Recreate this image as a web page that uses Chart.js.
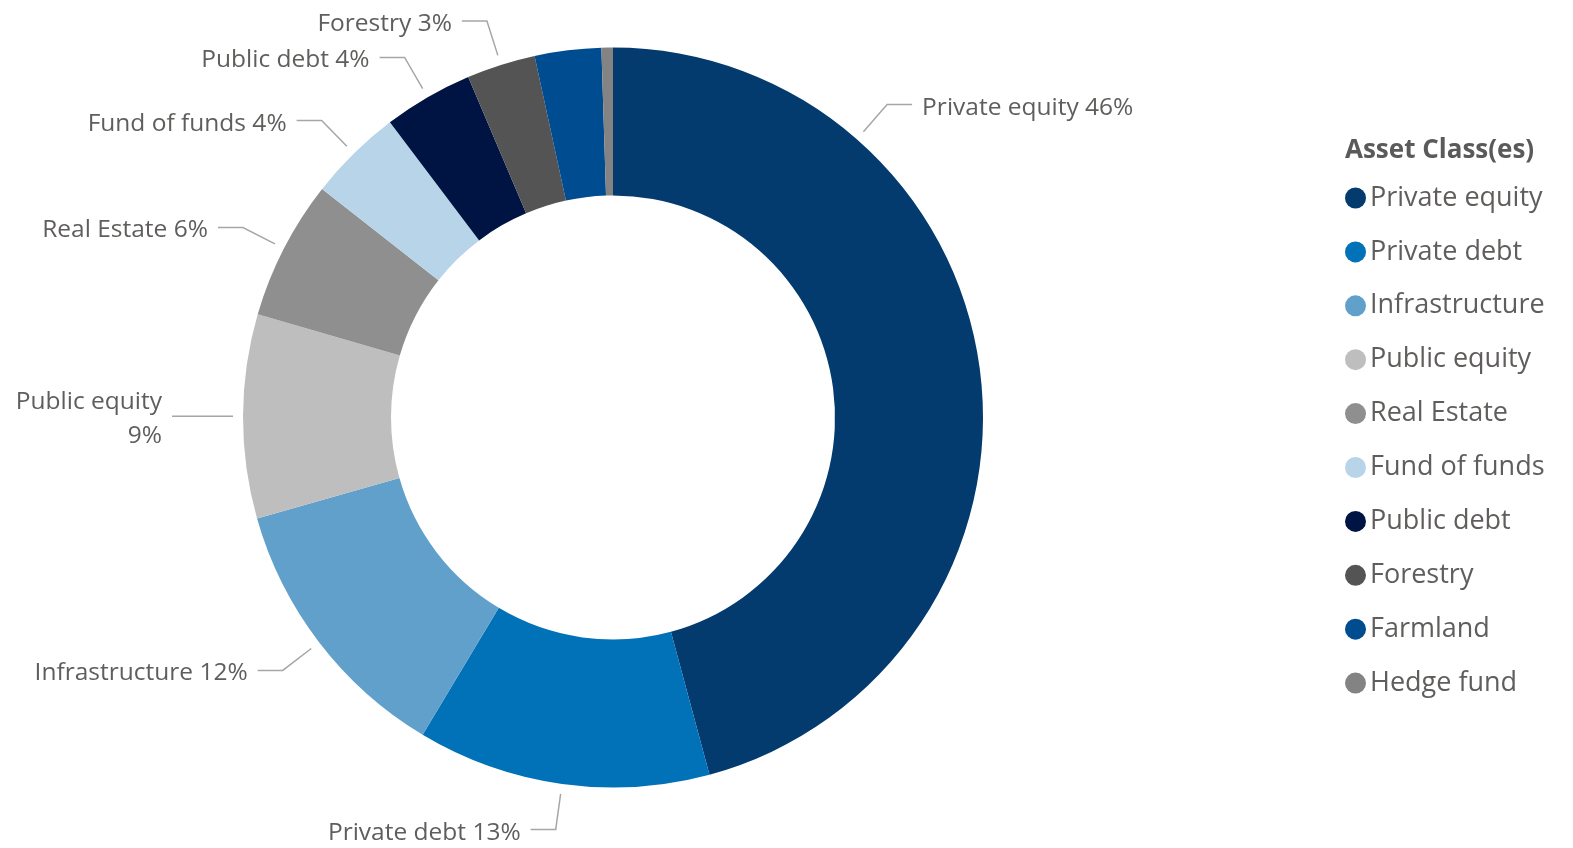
<!DOCTYPE html>
<html>
<head>
<meta charset="utf-8">
<script src="https://cdn.jsdelivr.net/npm/chart.js@4.4.1/dist/chart.umd.min.js"></script>
<style>
  html, body { margin: 0; padding: 0; background: #ffffff; overflow: hidden; }
  #wrap { position: relative; width: 1573px; height: 848px; }
</style>
</head>
<body>
<div id="wrap"><canvas id="c" width="1573" height="848"></canvas></div>
<script>
// Asset classes and their share of the portfolio (%)
const categories = ['Private equity', 'Private debt', 'Infrastructure', 'Public equity', 'Real Estate',
                    'Fund of funds', 'Public debt', 'Forestry', 'Farmland', 'Hedge fund'];
const shares = [45.8, 12.8, 12.0, 8.9, 6.1, 4.1, 3.9, 3.0, 2.9, 0.5];
const colours = ['#033b6f', '#0171b8', '#62a0cc', '#bebebe', '#8f8f8f',
                 '#b8d4e9', '#001443', '#545454', '#004c91', '#838383'];
const legendTitle = 'Asset Class(es)';

const FONT = '"Open Sans", "Noto Sans", sans-serif';
const TEXT = '#605e5c';

// Outside labels joined to their slice by a bent leader line
const calloutLabels = {
  id: 'calloutLabels',
  afterDatasetsDraw(chart, args, opts) {
    const ctx = chart.ctx;
    const meta = chart.getDatasetMeta(0);
    const values = chart.data.datasets[0].data;
    const total = values.reduce((a, b) => a + b, 0);
    const placed = [];
    ctx.save();
    ctx.font = opts.font;
    ctx.textBaseline = 'middle';
    meta.data.forEach((arc, i) => {
      const p = arc.getProps(['x', 'y', 'startAngle', 'endAngle', 'outerRadius'], true);
      const f = opts.anchorAt[i] !== undefined ? opts.anchorAt[i] : 0.5;
      const a = p.startAngle + (p.endAngle - p.startAngle) * f;
      const c = Math.cos(a), s = Math.sin(a);
      const p0 = { x: p.x + c * (p.outerRadius + opts.gap), y: p.y + s * (p.outerRadius + opts.gap) };
      const p1 = { x: p.x + c * (p.outerRadius + opts.elbow), y: p.y + s * (p.outerRadius + opts.elbow) };
      const dir = c >= 0 ? 1 : -1;
      const p2 = { x: p1.x + dir * opts.run, y: p1.y };
      const tx = p2.x + dir * opts.pad;
      const pct = Math.round(values[i] / total * 100) + '%';
      let lines = [chart.data.labels[i] + ' ' + pct];
      let w = ctx.measureText(lines[0]).width;
      const fits = dir > 0 ? tx + w <= chart.width - opts.margin : tx - w >= opts.margin;
      if (!fits) {
        lines = [chart.data.labels[i], pct];
        w = Math.max(...lines.map(t => ctx.measureText(t).width));
      }
      const n = lines.length;
      const cy = p1.y + opts.dy;
      const half = opts.size / 2;
      const box = {
        l: dir > 0 ? tx : tx - w,
        r: dir > 0 ? tx + w : tx,
        t: cy - (n - 1) / 2 * opts.lineHeight - half,
        b: cy + (n - 1) / 2 * opts.lineHeight + half
      };
      if (box.t < 0 || box.b > chart.height || box.l < 0 || box.r > chart.width) return;
      if (placed.some(q => !(box.r < q.l || box.l > q.r || box.b < q.t || box.t > q.b))) return;
      placed.push(box);

      ctx.strokeStyle = opts.lineColor;
      ctx.lineWidth = opts.lineWidth;
      ctx.beginPath();
      ctx.moveTo(p0.x, p0.y);
      ctx.lineTo(p1.x, p1.y);
      ctx.lineTo(p2.x, p2.y);
      ctx.stroke();

      ctx.fillStyle = opts.color;
      ctx.textAlign = dir > 0 ? 'left' : 'right';
      lines.forEach((t, k) => {
        ctx.fillText(t, tx, cy + (k - (n - 1) / 2) * opts.lineHeight);
      });
    });
    ctx.restore();
  }
};

// Legend with a title and round markers, drawn at the right of the canvas
const sideLegend = {
  id: 'sideLegend',
  afterDraw(chart, args, opts) {
    const ctx = chart.ctx;
    const ds = chart.data.datasets[0];
    ctx.save();
    ctx.textBaseline = 'middle';
    ctx.textAlign = 'left';
    ctx.fillStyle = opts.titleColor;
    ctx.font = opts.titleFont;
    ctx.fillText(opts.title, opts.x, opts.titleY);
    ctx.font = opts.font;
    chart.data.labels.forEach((label, i) => {
      const y = opts.firstY + i * opts.step;
      ctx.fillStyle = ds.backgroundColor[i];
      ctx.beginPath();
      ctx.arc(opts.x + opts.radius, y, opts.radius, 0, Math.PI * 2);
      ctx.fill();
      ctx.fillStyle = opts.color;
      ctx.fillText(label, opts.x + opts.radius * 2 + opts.textGap, y);
    });
    ctx.restore();
  }
};

new Chart(document.getElementById('c'), {
  type: 'doughnut',
  data: {
    labels: categories,
    datasets: [{
      data: shares,
      backgroundColor: colours,
      borderWidth: 0
    }]
  },
  plugins: [calloutLabels, sideLegend],
  options: {
    responsive: false,
    animation: false,
    cutout: '60%',
    layout: { padding: { left: 243, right: 590, top: 47, bottom: 60 } },
    plugins: {
      legend: { display: false },
      tooltip: { enabled: false },
      calloutLabels: {
        font: '24.5px ' + FONT,
        size: 24,
        color: TEXT,
        lineColor: '#a6a6a6',
        lineWidth: 1.5,
        gap: 10,
        elbow: 46,
        run: 25,
        pad: 10,
        dy: 3,
        lineHeight: 34,
        margin: 8,
        anchorAt: { 0: 0.25 }
      },
      sideLegend: {
        title: legendTitle,
        titleFont: 'bold 26px ' + FONT,
        titleColor: '#5a5a5a',
        font: '27px ' + FONT,
        color: TEXT,
        x: 1345,
        titleY: 151,
        firstY: 198,
        step: 53.9,
        radius: 10.5,
        textGap: 4
      }
    }
  }
});
</script>
</body>
</html>
